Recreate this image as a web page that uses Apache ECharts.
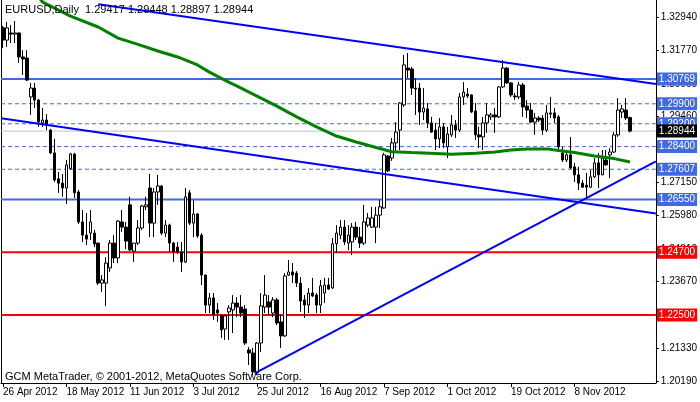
<!DOCTYPE html>
<html><head><meta charset="utf-8">
<script src="https://cdn.jsdelivr.net/npm/echarts@6/dist/echarts.min.js"></script>
<style>html,body{margin:0;padding:0;background:#fff}#c{width:700px;height:402px}</style>
</head><body><div id="c"></div>
<script>
const symbolName = 'EURUSD,Daily';
const copyright = 'GCM MetaTrader, \u00a9 2001-2012, MetaQuotes Software Corp.';
const tickLabels = ['26 Apr 2012','18 May 2012','11 Jun 2012','3 Jul 2012','25 Jul 2012','16 Aug 2012','7 Sep 2012','1 Oct 2012','19 Oct 2012','8 Nov 2012'];
const slotCount = 165;
const priceTicks = [1.20190,1.21330,1.22500,1.23670,1.24810,1.25980,1.27150,1.28300,1.29460,1.30600,1.31770,1.32940];

const open = [1.3256,1.3213,1.3238,1.3234,1.3238,1.3154,1.3150,1.3014,1.3045,1.3003,
1.2923,1.2933,1.2898,1.2818,1.2727,1.2712,1.2695,1.2762,1.2814,1.2681,
1.2576,1.2530,1.2537,1.2537,1.2502,1.2362,1.2362,1.2415,1.2502,1.2450,
1.2576,1.2558,1.2636,1.2474,1.2502,1.2555,1.2629,1.2695,1.2572,1.2681,
1.2702,1.2537,1.2565,1.2502,1.2488,1.2471,1.2436,1.2678,1.2572,1.2604,
1.2530,1.2390,1.2285,1.2310,1.2268,1.2250,1.2201,1.2261,1.2268,1.2292,
1.2278,1.2271,1.2128,1.2117,1.2047,1.2152,1.2278,1.2296,1.2257,1.2303,
1.2226,1.2177,1.2390,1.2401,1.2397,1.2362,1.2303,1.2285,1.2327,1.2320,
1.2285,1.2327,1.2355,1.2345,1.2500,1.2530,1.2558,1.2502,1.2506,1.2558,
1.2523,1.2502,1.2565,1.2558,1.2558,1.2600,1.2625,1.2807,1.2800,1.2853,
1.2898,1.2986,1.3115,1.3112,1.3045,1.3045,1.2961,1.2972,1.2923,1.2898,
1.2867,1.2909,1.2839,1.2881,1.2916,1.2898,1.3014,1.3024,1.3021,1.2965,
1.2881,1.2874,1.2923,1.2944,1.2951,1.2944,1.3049,1.3115,1.3063,1.3017,
1.3014,1.3056,1.2982,1.2968,1.2926,1.2940,1.2940,1.2898,1.2954,1.2958,
1.2944,1.2818,1.2793,1.2811,1.2769,1.2741,1.2712,1.2705,1.2698,1.2734,
1.2783,1.2741,1.2793,1.2811,1.2821,1.2881,1.2961,1.2968,1.29417];

const high = [1.3263,1.3277,1.3266,1.3280,1.3240,1.3178,1.3178,1.3063,1.3063,1.3007,
1.2975,1.2954,1.2902,1.2867,1.2751,1.2744,1.2793,1.2818,1.2818,1.2688,
1.2618,1.2607,1.2618,1.2548,1.2503,1.2390,1.2453,1.2513,1.2530,1.2583,
1.2618,1.2576,1.2664,1.2502,1.2583,1.2636,1.2664,1.2744,1.2695,1.2741,
1.2705,1.2583,1.2570,1.2506,1.2506,1.2506,1.2695,1.2688,1.2653,1.2607,
1.2537,1.2392,1.2327,1.2327,1.2292,1.2252,1.2250,1.2285,1.2320,1.2313,
1.2320,1.2285,1.2138,1.2135,1.2155,1.2327,1.2390,1.2320,1.2313,1.2310,
1.2250,1.2397,1.2443,1.2432,1.2404,1.2383,1.2320,1.2345,1.2380,1.2327,
1.2373,1.2380,1.2380,1.2520,1.2565,1.2583,1.2583,1.2565,1.2572,1.2576,
1.2558,1.2636,1.2607,1.2629,1.2629,1.2653,1.2818,1.2811,1.2870,1.2926,
1.2996,1.3161,1.3168,1.3119,1.3080,1.3063,1.3045,1.2993,1.2944,1.2923,
1.2940,1.2923,1.2909,1.2951,1.2933,1.3028,1.3066,1.3045,1.3023,1.2993,
1.2909,1.2944,1.2993,1.2958,1.2975,1.3052,1.3143,1.3119,1.3066,1.3028,
1.3066,1.3063,1.3003,1.2993,1.2958,1.2947,1.2951,1.2986,1.3014,1.2975,
1.2951,1.2839,1.2818,1.2874,1.2783,1.2769,1.2723,1.2748,1.2758,1.2800,
1.2818,1.2828,1.2828,1.2835,1.2891,1.3010,1.2986,1.3010,1.29448];

const low = [1.3185,1.3189,1.3203,1.3203,1.3133,1.3091,1.3070,1.2951,1.2975,1.2909,
1.2909,1.2898,1.2814,1.2716,1.2678,1.2664,1.2639,1.2758,1.2660,1.2569,
1.2506,1.2495,1.2513,1.2488,1.2355,1.2331,1.2282,1.2401,1.2432,1.2432,
1.2541,1.2481,1.2474,1.2436,1.2495,1.2548,1.2618,1.2523,1.2523,1.2636,
1.2530,1.2523,1.2471,1.2436,1.2464,1.2401,1.2432,1.2565,1.2523,1.2520,
1.2355,1.2257,1.2257,1.2233,1.2226,1.2170,1.2163,1.2163,1.2187,1.2243,
1.2243,1.2145,1.2075,1.2040,1.2040,1.2121,1.2257,1.2250,1.2243,1.2215,
1.2135,1.2173,1.2387,1.2362,1.2348,1.2261,1.2240,1.2257,1.2313,1.2257,
1.2257,1.2292,1.2338,1.2341,1.2467,1.2515,1.2495,1.2478,1.2460,1.2513,
1.2485,1.2495,1.2558,1.2555,1.2502,1.2555,1.2622,1.2751,1.2790,1.2818,
1.2828,1.2979,1.3080,1.3021,1.2951,1.2916,1.2933,1.2905,1.2888,1.2828,
1.2835,1.2835,1.2800,1.2874,1.2870,1.2891,1.2986,1.3010,1.2958,1.2863,
1.2835,1.2828,1.2888,1.2933,1.2888,1.2940,1.3045,1.3060,1.3014,1.3003,
1.3007,1.2944,1.2940,1.2923,1.2881,1.2926,1.2881,1.2891,1.2940,1.2923,
1.2828,1.2786,1.2786,1.2762,1.2716,1.2688,1.2695,1.2664,1.2695,1.2730,
1.2695,1.2740,1.2772,1.2730,1.2818,1.2874,1.2940,1.2933,1.28897];

const close = [1.3213,1.3256,1.3234,1.3238,1.3154,1.3147,1.3073,1.3045,1.3003,1.2926,
1.2933,1.2916,1.2818,1.2723,1.2712,1.2695,1.2776,1.2814,1.2678,1.2576,
1.2530,1.2516,1.2576,1.2499,1.2362,1.2373,1.2432,1.2502,1.2450,1.2579,
1.2558,1.2509,1.2478,1.2502,1.2555,1.2632,1.2636,1.2572,1.2681,1.2702,
1.2537,1.2565,1.2502,1.2471,1.2471,1.2436,1.2664,1.2572,1.2604,1.2527,
1.2390,1.2285,1.2310,1.2250,1.2257,1.2198,1.2247,1.2275,1.2292,1.2278,
1.2257,1.2152,1.2117,1.2051,1.2152,1.2282,1.2320,1.2278,1.2303,1.2222,
1.2177,1.2387,1.2401,1.2390,1.2362,1.2299,1.2285,1.2327,1.2317,1.2285,
1.2352,1.2355,1.2341,1.2500,1.2537,1.2558,1.2506,1.2530,1.2558,1.2523,
1.2502,1.2576,1.2590,1.2590,1.2600,1.2629,1.2811,1.2755,1.2853,1.2891,
1.2993,1.3126,1.3108,1.3045,1.3042,1.2961,1.2975,1.2923,1.2891,1.2867,
1.2909,1.2853,1.2884,1.2916,1.2898,1.3014,1.3031,1.3017,1.2961,1.2881,
1.2874,1.2923,1.2951,1.2951,1.2944,1.3049,1.3115,1.3063,1.3021,1.3014,
1.3056,1.2979,1.2968,1.2926,1.2940,1.2933,1.2898,1.2958,1.2958,1.2940,
1.2839,1.2793,1.2811,1.2765,1.2741,1.2712,1.2698,1.2698,1.2734,1.2783,
1.2741,1.2800,1.2776,1.2821,1.2881,1.2968,1.2972,1.2940,1.28944];

// moving average readings: [bar index, price]
const maPoints = [[9,1.3364],[10,1.3346],[17,1.3297],[24,1.3259],[29,1.3220],[34,1.3198],[39,1.3175],[44,1.3154],
[49,1.3126],[52,1.3101],[57,1.3065],[59,1.3052],[64,1.3017],[69,1.2982],[74,1.2944],[79,1.2909],[84,1.2877],
[89,1.2856],[94,1.2837],[98,1.2822],[103,1.2819],[109,1.2816],[113,1.2813],[119,1.2817],[124,1.2821],
[128,1.2828],[132,1.2832],[137,1.2832],[140,1.2826],[144,1.2819],[149,1.2807],[154,1.2798],[158,1.2786]];

// trend lines: [bar index, price] endpoints
const trendUpper = [[24,1.3339],[164.5,1.3059]];
const trendLower = [[-0.5,1.2939],[164.5,1.2606]];
const trendRising = [[63.4,1.2046],[164.5,1.2788]];

const solidBlueLevels = [1.30769, 1.26550];
const dashedLevels = [1.29900, 1.29200, 1.28400, 1.27607];
const redLevels = [1.24700, 1.22500];
const bidLevel = 1.28944;

const yMin = 1.2012, yMax = 1.33535;
const FONT = '"Liberation Sans", Arial, sans-serif';

const categories = Array.from({length: slotCount}, (_, i) => String(i));
const candles = open.map((o, i) => [o, close[i], low[i], high[i]]);
const last = open.length - 1;
const titleText = symbolName + '  ' + [open[last], high[last], low[last], close[last]].map(v => v.toFixed(5)).join(' ');

function levelSeries(v, color, width, type, labelBg, z) {
  return {
    type: 'line', xAxisIndex: 1, yAxisIndex: 0, z: z, silent: true,
    data: [[-0.5, v], [slotCount - 0.5, v]],
    symbol: 'none', animation: false,
    lineStyle: {color: color, width: width, type: type},
    endLabel: {show: true, formatter: () => v.toFixed(5), color: '#fff', backgroundColor: labelBg,
      padding: [2, 2, 1, 2], distance: 1, fontFamily: FONT, fontSize: 10}
  };
}
function trendSeries(pts) {
  return {type: 'line', xAxisIndex: 1, yAxisIndex: 0, z: 4, silent: true, data: pts, symbol: 'none',
    animation: false, lineStyle: {color: '#0000ff', width: 2}};
}

const series = [];
dashedLevels.forEach(v => series.push(levelSeries(v, '#4169E1', 1, [4, 3], '#4169E1', 1)));
series.push(levelSeries(bidLevel, '#c0c0c0', 1, 'solid', '#000000', 1));
solidBlueLevels.forEach(v => series.push(levelSeries(v, '#4169E1', 2, 'solid', '#4169E1', 1)));
redLevels.forEach(v => series.push(levelSeries(v, '#ff0000', 2, 'solid', '#ff0000', 1)));
series.push({
  type: 'candlestick', xAxisIndex: 0, yAxisIndex: 0, z: 2, data: candles, barWidth: 3, animation: false,
  itemStyle: {color: '#ffffff', color0: '#000000', borderColor: '#000000', borderColor0: '#000000', borderWidth: 1}
});
series.push({type: 'line', xAxisIndex: 1, yAxisIndex: 0, z: 3, silent: true, data: maPoints, symbol: 'none',
  animation: false, lineStyle: {color: '#008000', width: 3}});
series.push(trendSeries(trendUpper));
series.push(trendSeries(trendLower));
series.push(trendSeries(trendRising));

const chart = echarts.init(document.getElementById('c'), null, {renderer: 'canvas'});
chart.setOption({
  backgroundColor: '#ffffff',
  animation: false,
  textStyle: {fontFamily: FONT},
  title: [
    {text: titleText, left: 5, top: 4, padding: 0, textStyle: {fontSize: 11, fontWeight: 'normal', color: '#000', fontFamily: FONT}, z: 10},
    {text: copyright, left: 5, top: 371, padding: 0, textStyle: {fontSize: 11, fontWeight: 'normal', color: '#000', fontFamily: FONT}, z: 10}
  ],
  grid: {left: 1, right: 39, top: 0, bottom: 19, containLabel: false},
  xAxis: [
    {type: 'category', data: categories, boundaryGap: true, gridIndex: 0,
     axisLine: {show: true, lineStyle: {color: '#000', width: 1}},
     axisTick: {show: true, alignWithLabel: true, length: 4, lineStyle: {color: '#000'},
       interval: (i) => i % 16 === 0 && i / 16 < tickLabels.length},
     axisLabel: {show: true, interval: (i) => i % 16 === 0 && i / 16 < tickLabels.length,
       formatter: (v, i) => tickLabels[i / 16], align: 'left', margin: 4, color: '#000', fontSize: 10, fontFamily: FONT},
     splitLine: {show: false}},
    {type: 'value', min: -0.5, max: slotCount - 0.5, show: false, gridIndex: 0}
  ],
  yAxis: [
    {type: 'value', position: 'right', min: yMin, max: yMax, scale: true,
     axisLine: {show: true, onZero: false, lineStyle: {color: '#000', width: 1}},
     axisTick: {show: true, length: 3, lineStyle: {color: '#000'}, customValues: priceTicks},
     axisLabel: {show: true, customValues: priceTicks, formatter: v => v.toFixed(5), margin: 5, color: '#000', fontSize: 10, fontFamily: FONT},
     splitLine: {show: false}},
    {type: 'value', position: 'left', min: yMin, max: yMax, scale: true,
     axisLine: {show: true, onZero: false, lineStyle: {color: '#000', width: 1}},
     axisTick: {show: false}, axisLabel: {show: false}, splitLine: {show: false}}
  ],
  series: series
});
</script>
</body></html>
